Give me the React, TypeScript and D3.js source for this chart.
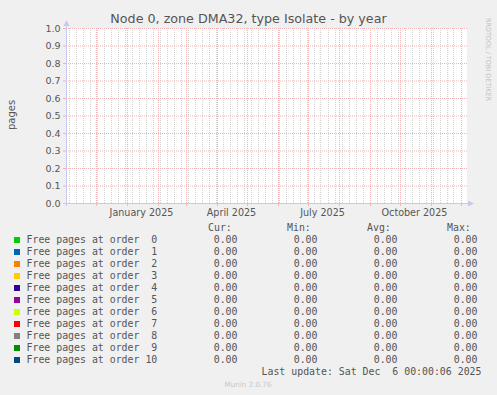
import React from "react";
import * as d3 from "d3";

const title = "Node 0, zone DMA32, type Isolate - by year";
const yLabel = "pages";
const startDate = new Date(Date.UTC(2024, 10, 1));
const endDate = new Date(Date.UTC(2025, 11, 6));
const yTicks = [0, 0.1, 0.2, 0.3, 0.4, 0.5, 0.6, 0.7, 0.8, 0.9, 1.0];
const xLabelMonths = [new Date(Date.UTC(2025, 0, 1)), new Date(Date.UTC(2025, 3, 1)), new Date(Date.UTC(2025, 6, 1)), new Date(Date.UTC(2025, 9, 1))];
const seriesNames = [
  "Free pages at order  0",
  "Free pages at order  1",
  "Free pages at order  2",
  "Free pages at order  3",
  "Free pages at order  4",
  "Free pages at order  5",
  "Free pages at order  6",
  "Free pages at order  7",
  "Free pages at order  8",
  "Free pages at order  9",
  "Free pages at order 10",
];
const seriesColors = ["#00CC00", "#0066B3", "#FF8000", "#FFCC00", "#330099", "#990099", "#CCFF00", "#FF0000", "#808080", "#008F00", "#00487D"];
const seriesTimes = [startDate, endDate];
const seriesValues = [
  [0, 0], [0, 0], [0, 0], [0, 0], [0, 0], [0, 0], [0, 0], [0, 0], [0, 0], [0, 0], [0, 0],
];
const curValues = [0, 0, 0, 0, 0, 0, 0, 0, 0, 0, 0];
const minValues = [0, 0, 0, 0, 0, 0, 0, 0, 0, 0, 0];
const avgValues = [0, 0, 0, 0, 0, 0, 0, 0, 0, 0, 0];
const maxValues = [0, 0, 0, 0, 0, 0, 0, 0, 0, 0, 0];
const lastUpdate = "Last update: Sat Dec  6 00:00:06 2025";
const version = "Munin 2.0.76";
const watermark = "RRDTOOL / TOBI OETIKER";

export default function App() {
  const W = 497, H = 395;
  const L = 66, R = 467, T = 28, B = 203;
  const x = d3.scaleUtc().domain([startDate, endDate]).range([65.5, 465.5]);
  const y = d3.scaleLinear().domain([0, 1]).range([203.5, 28.5]);
  const months = d3.utcMonth.range(new Date(startDate.getTime() + 1), endDate);
  const weeks = d3.utcMonday.range(startDate, endDate);
  const fmt = d3.utcFormat("%B %Y");
  const line = d3.line<number>().x((_, i) => x(seriesTimes[i])).y((v) => y(v));
  const sans = "'DejaVu Sans', sans-serif";
  const mono = "'DejaVu Sans Mono', monospace";
  const txt = "#555";
  const major = "#EFB3B3";
  const minor = "#D2D2D2";
  const legendFont = 9.9;
  const rowY = (i: number) => 240 + i * 12;
  const f2 = d3.format(".2f");
  const cols = [
    { head: "Cur:", hx: 208, vx: 237.5, vals: curValues },
    { head: "Min:", hx: 287, vx: 317.5, vals: minValues },
    { head: "Avg:", hx: 367, vx: 397.5, vals: avgValues },
    { head: "Max:", hx: 447, vx: 477.5, vals: maxValues },
  ];
  return (
    <svg width={W} height={H} style={{ position: "absolute", left: 0, top: 0, display: "block" }}>
      <rect x={0} y={0} width={W} height={H} fill="#F0F0F0" />
      <rect x={L} y={T} width={R - L} height={B - T + 0.5} fill="#FFFFFF" />
      {weeks.map((d, i) => (
        <line key={"w" + i} x1={Math.round(x(d)) + 0.5} x2={Math.round(x(d)) + 0.5} y1={T} y2={B} stroke={minor} strokeDasharray="1,1" />
      ))}
      {months.map((d, i) => (
        <g key={"m" + i}>
          <line x1={Math.round(x(d)) + 0.5} x2={Math.round(x(d)) + 0.5} y1={T} y2={B} stroke={major} strokeDasharray="1,1" />
          <line x1={Math.round(x(d)) + 0.5} x2={Math.round(x(d)) + 0.5} y1={B} y2={B + 3} stroke={major} />
        </g>
      ))}
      {yTicks.map((v, i) => (
        <g key={"y" + i}>
          <line x1={L} x2={R + 1} y1={y(v)} y2={y(v)} stroke={major} strokeDasharray="1,1" />
          <line x1={L - 3} x2={L} y1={y(v)} y2={y(v)} stroke={major} />
          <text x={60.5} y={y(v)} dy="0.35em" textAnchor="end" fontFamily={sans} fontSize={9.5} fill={txt}>{v.toFixed(1)}</text>
        </g>
      ))}
      {seriesValues.map((vals, i) => (
        <path key={"s" + i} d={line(vals) || ""} fill="none" stroke={seriesColors[i]} strokeWidth={1} />
      ))}
      <line x1={63} x2={470} y1={203.5} y2={203.5} stroke="#C8C8F0" />
      <line x1={66.5} x2={66.5} y1={206} y2={24} stroke="#C8C8F0" />
      <path d="M63.5,26 L69.5,26 L66.5,20 Z" fill="#C8C8F0" />
      <path d="M468,200.5 L468,206.5 L474,203.5 Z" fill="#C8C8F0" />
      {xLabelMonths.map((d, i) => (
        <text key={"xl" + i} x={x(d3.utcDay.offset(d, 15))} y={212.5} dy="0.35em" textAnchor="middle" fontFamily={sans} fontSize={9.6} fill={txt}>{fmt(d)}</text>
      ))}
      <text x={248.5} y={18.5} dy="0.35em" textAnchor="middle" fontFamily={sans} fontSize={12.7} fill={txt}>{title}</text>
      <text transform="translate(11,115) rotate(-90)" dy="0.35em" textAnchor="middle" fontFamily={sans} fontSize={10} fill={txt}>{yLabel}</text>
      <text transform="translate(488.5,18) rotate(90)" dy="0.35em" textAnchor="start" fontFamily={sans} fontSize={6.8} textLength={83} lengthAdjust="spacingAndGlyphs" fill="#C0C0C0">{watermark}</text>
      {cols.map((c, j) => (
        <text key={"h" + j} x={c.hx} y={228} dy="0.35em" fontFamily={mono} fontSize={legendFont} fill={txt}>{c.head}</text>
      ))}
      {seriesNames.map((n, i) => (
        <g key={"l" + i}>
          <rect x={14} y={rowY(i) - 3} width={6} height={6} fill={seriesColors[i]} />
          <text x={26.5} y={rowY(i)} dy="0.35em" fontFamily={mono} fontSize={legendFont} fill={txt} style={{ whiteSpace: "pre" }}>{n}</text>
          {cols.map((c, j) => (
            <text key={"v" + j} x={c.vx} y={rowY(i)} dy="0.35em" textAnchor="end" fontFamily={mono} fontSize={legendFont} fill={txt}>{f2(c.vals[i])}</text>
          ))}
        </g>
      ))}
      <text x={481.5} y={372} dy="0.35em" textAnchor="end" fontFamily={mono} fontSize={legendFont} fill={txt} style={{ whiteSpace: "pre" }}>{lastUpdate}</text>
      <text x={248} y={384} dy="0.35em" textAnchor="middle" fontFamily={sans} fontSize={7.2} fill="#C8C8C8">{version}</text>
    </svg>
  );
}
